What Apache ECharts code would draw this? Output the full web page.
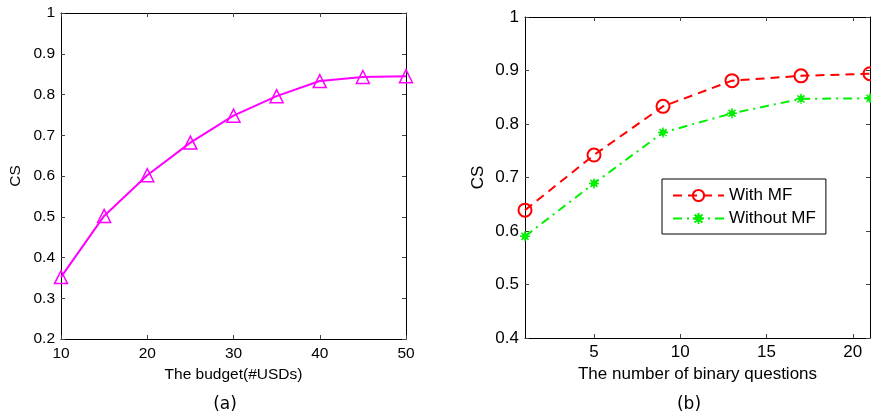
<!DOCTYPE html>
<html><head><meta charset="utf-8">
<script src="https://cdn.jsdelivr.net/npm/echarts@6/dist/echarts.min.js"></script>
<style>html,body{margin:0;padding:0;background:#fff}#c{width:871px;height:418px}</style>
</head><body><div id="c"></div>
<script>
// Panel (a)
const budgetX = [10, 15, 20, 25, 30, 35, 40, 45, 50];
const budgetCS = [0.352, 0.502, 0.602, 0.682, 0.748, 0.796, 0.833, 0.843, 0.845];
const budgetXTicks = [10, 20, 30, 40, 50];
// Panel (b)
const questionsX = [1, 5, 9, 13, 17, 21];
const withMF = [0.639, 0.742, 0.833, 0.881, 0.890, 0.894];
const withoutMF = [0.590, 0.689, 0.784, 0.820, 0.847, 0.848];
const questionsXTicks = [5, 10, 15, 20];
const seriesNames = ['With MF', 'Without MF'];
const captions = ['(a)', '(b)'];

const FONT = 'Liberation Sans, Arial, Helvetica, sans-serif';
const labA = {color: '#000', fontFamily: FONT, fontSize: 15.5};
const labB = {color: '#000', fontFamily: FONT, fontSize: 17};
const tick = {show: true, inside: true, length: 4, lineStyle: {color: '#444', width: 1}};
const line = {show: true, onZero: false, lineStyle: {color: '#000', width: 1}};

function pairs(xs, ys) { return xs.map((x, i) => [x, ys[i]]); }

const asterisk = 'path://M5,0L5,10M0,5L10,5M1.5,1.5L8.5,8.5M1.5,8.5L8.5,1.5M5,2L8,5L5,8L2,5Z';

const chart = echarts.init(document.getElementById('c'), null, {renderer: 'canvas'});
chart.setOption({
  animation: false,
  backgroundColor: '#fff',
  title: [
    {text: captions[0], left: 225, top: 396, textAlign: 'center', padding: 0,
     textStyle: {fontFamily: 'DejaVu Sans', fontSize: 17, fontWeight: 'normal', color: '#000'}},
    {text: captions[1], left: 689, top: 396, textAlign: 'center', padding: 0,
     textStyle: {fontFamily: 'DejaVu Sans', fontSize: 17, fontWeight: 'normal', color: '#000'}}
  ],
  grid: [
    {left: 61, top: 13, width: 345, height: 326, containLabel: false},
    {left: 525, top: 17, width: 345, height: 321, containLabel: false}
  ],
  legend: {
    data: seriesNames,
    left: 662, top: 179, orient: 'vertical',
    itemWidth: 51, itemHeight: 14, itemGap: 6,
    padding: [8, 10, 7, 10],
    borderColor: '#000', borderWidth: 1, backgroundColor: '#fff',
    textStyle: {fontFamily: FONT, fontSize: 17, color: '#000'}
  },
  xAxis: [
    {type: 'value', gridIndex: 0, min: 10, max: 50, interval: 10, position: 'bottom',
     axisLine: line, axisTick: tick, splitLine: {show: false},
     axisLabel: Object.assign({margin: 7, customValues: budgetXTicks}, labA),
     name: 'The budget(#USDs)', nameLocation: 'middle', nameGap: 26,
     nameTextStyle: labA},
    {type: 'value', gridIndex: 0, min: 10, max: 50, interval: 10, position: 'top',
     axisLine: line, axisTick: tick, splitLine: {show: false}, axisLabel: {show: false}},
    {type: 'value', gridIndex: 1, min: 1, max: 21, position: 'bottom',
     axisLine: line, axisTick: Object.assign({customValues: questionsXTicks}, tick), splitLine: {show: false},
     axisLabel: Object.assign({margin: 6, customValues: questionsXTicks}, labB),
     name: 'The number of binary questions', nameLocation: 'middle', nameGap: 26,
     nameTextStyle: labB},
    {type: 'value', gridIndex: 1, min: 1, max: 21, position: 'top',
     axisLine: line, axisTick: Object.assign({customValues: questionsXTicks}, tick), splitLine: {show: false}, axisLabel: {show: false}}
  ],
  yAxis: [
    {type: 'value', gridIndex: 0, min: 0.2, max: 1, interval: 0.1, position: 'left',
     axisLine: line, axisTick: tick, splitLine: {show: false},
     axisLabel: Object.assign({margin: 6}, labA),
     name: 'CS', nameLocation: 'middle', nameGap: 37,
     nameTextStyle: labA},
    {type: 'value', gridIndex: 0, min: 0.2, max: 1, interval: 0.1, position: 'right',
     axisLine: line, axisTick: tick, splitLine: {show: false}, axisLabel: {show: false}},
    {type: 'value', gridIndex: 1, min: 0.4, max: 1, interval: 0.1, position: 'left',
     axisLine: line, axisTick: tick, splitLine: {show: false},
     axisLabel: Object.assign({margin: 6}, labB),
     name: 'CS', nameLocation: 'middle', nameGap: 38,
     nameTextStyle: labB},
    {type: 'value', gridIndex: 1, min: 0.4, max: 1, interval: 0.1, position: 'right',
     axisLine: line, axisTick: tick, splitLine: {show: false}, axisLabel: {show: false}}
  ],
  series: [
    {type: 'line', name: 'budget', xAxisIndex: 0, yAxisIndex: 0,
     data: pairs(budgetX, budgetCS), symbol: 'triangle', symbolSize: 13, showSymbol: true,
     lineStyle: {color: '#ff00ff', width: 2},
     itemStyle: {color: 'rgba(0,0,0,0)', borderColor: '#ff00ff', borderWidth: 1.5}},
    {type: 'line', name: seriesNames[0], xAxisIndex: 2, yAxisIndex: 2,
     data: pairs(questionsX, withMF), symbol: 'circle', symbolSize: 13,
     lineStyle: {color: '#ff0000', width: 2, type: [9, 6]},
     itemStyle: {color: 'rgba(0,0,0,0)', borderColor: '#ff0000', borderWidth: 2}},
    {type: 'line', name: seriesNames[1], xAxisIndex: 2, yAxisIndex: 2,
     data: pairs(questionsX, withoutMF), symbol: asterisk, symbolSize: 10,
     lineStyle: {color: '#00f000', width: 2, type: [9, 5, 2, 5]},
     itemStyle: {color: '#00f000', borderColor: '#00f000', borderWidth: 1.5}}
  ]
});
</script></body></html>
